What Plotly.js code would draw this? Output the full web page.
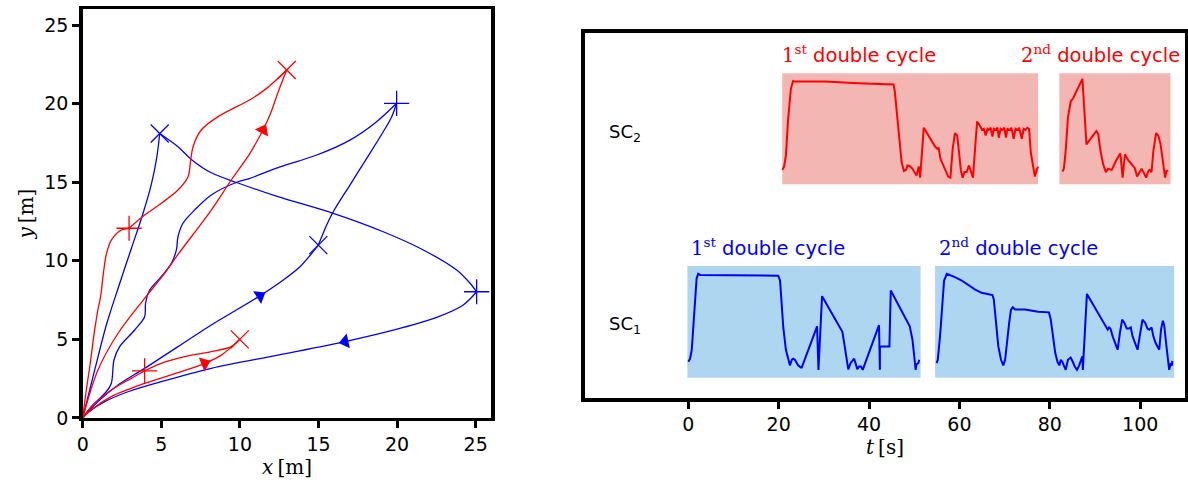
<!DOCTYPE html>
<html><head><meta charset="utf-8">
<script src="https://cdn.plot.ly/plotly-3.0.1.min.js"></script>
<style>html,body{margin:0;padding:0;background:#fff}</style>
</head><body><div id="chart" style="width:1188px;height:483px"></div>
<script>
// ---------- Left panel: trajectories (x, y in m) ----------
const blueA_x = [0, 0.8, 1.5, 2.3, 3.1, 3.8, 4.35, 4.7, 4.9];
const blueA_y = [0, 3.2, 5.9, 8.4, 10.8, 12.9, 14.8, 16.5, 18.1];
const blueB_x = [4.9, 6.06, 6.91, 8.18, 9.88, 12.42, 15.94, 19.12, 21.67, 23.79, 24.64, 25.06];
const blueB_y = [18.1, 17.26, 16.45, 15.6, 14.95, 14.08, 13.02, 11.85, 10.69, 9.41, 8.57, 8.03];
const blueC_x = [25.06, 24.21, 22.52, 20.18, 16.69, 12.42, 8.18, 5.0, 2.88, 1.4, 0.4, 0];
const blueC_y = [8.03, 7.19, 6.4, 5.7, 4.86, 4.0, 3.16, 2.31, 1.67, 1.04, 0.4, 0];
const blueD_x = [0, 0.97, 2.25, 3.94, 6.06, 8.18, 11.27, 12.76, 13.82, 14.99];
const blueD_y = [0, 1.04, 2.1, 3.16, 4.54, 5.92, 7.77, 8.78, 9.62, 11.0];
const blueE_x = [14.99, 15.52, 15.94, 17.0, 18.07, 19.12, 19.66, 19.97];
const blueE_y = [11.0, 12.28, 13.12, 14.82, 16.52, 18.21, 19.17, 20.02];
const blueF_x = [19.97, 18.7, 17.0, 14.89, 12.6, 10.64, 9.88, 8.18, 7.12, 6.38, 6.06, 5.96, 5.64, 5.0, 4.26, 4.0, 3.94, 3.31, 2.35, 1.99, 1.82, 1.5, 0.55, 0];
const blueF_y = [20.02, 18.85, 17.68, 16.73, 15.99, 15.25, 15.03, 14.19, 13.23, 12.39, 11.53, 10.69, 9.84, 8.99, 8.14, 7.3, 6.44, 5.6, 4.54, 3.69, 2.2, 1.67, 0.72, 0];
const redA_x = [0, 0.23, 0.45, 0.6, 0.76, 0.97, 1.14, 1.29, 1.4, 1.5, 1.82, 2.46, 2.95];
const redA_y = [0, 1.78, 3.26, 4.4, 5.6, 6.9, 7.72, 8.99, 9.84, 10.4, 11.32, 11.96, 12.07];
const redB_x = [2.95, 3.94, 5.0, 6.06, 6.7, 6.87, 7.02, 7.54, 8.61, 10.7, 11.7, 12.98];
const redB_y = [12.07, 12.91, 13.66, 14.5, 15.35, 16.41, 17.26, 18.32, 19.17, 20.28, 20.97, 22.14];
const redC_x = [0, 0.97, 2.25, 3.94, 5.21, 6.1, 8.18, 9.45, 10.64, 11.47, 11.91, 12.44, 12.98];
const redC_y = [0, 3.05, 5.39, 7.61, 9.2, 10.45, 13.23, 15.14, 16.84, 18.32, 19.27, 20.76, 22.14];
const redD_x = [0, 0.55, 1.82, 3.09, 3.94, 5.0, 6.49, 8.18, 9.45, 9.99];
const redD_y = [0, 0.72, 1.78, 2.52, 3.0, 3.48, 3.9, 4.22, 4.54, 5.0];
const redE_x = [0, 0.6, 1.82, 3.94, 6.06, 7.76, 8.82, 9.99];
const redE_y = [0, 0.55, 1.36, 2.2, 2.88, 3.48, 4.0, 5.0];

const blueCross_x = [4.9, 14.99];   const blueCross_y = [18.1, 11.0];
const bluePlus_x  = [19.97, 25.06]; const bluePlus_y  = [20.02, 8.03];
const redCross_x  = [12.98, 9.99];  const redCross_y  = [22.14, 5.0];
const redPlus_x   = [2.95, 3.94];   const redPlus_y   = [12.07, 3.0];

// arrow heads: [curve name, vertex index]
const arrowRefs = [['blueD', 6], ['blueC', 4], ['redC', 9], ['redE', 5]];

// ---------- Right panel: signals (t in s, level 0..1 inside band) ----------
const sc1a_t = [0.0,0.4,0.77,1.1,1.5,1.85,2.2,2.6,19.9,20.3,20.6,21.0,21.6,22.1,22.5,22.9,23.2,23.6,23.9,24.3,24.9,25.1,28.5,28.8,29.6,33.6,34.1,34.5,35.0,35.4,35.9,36.4,36.7,37.0,37.4,37.8,38.2,38.6,42.2,42.4,42.4,44.5,44.8,49.0,49.6,50.0,50.3,50.5,50.9,51.1];
const sc1a_v = [0.143,0.17,0.25,0.46,0.76,0.89,0.93,0.92,0.913,0.87,0.70,0.46,0.25,0.16,0.11,0.16,0.17,0.16,0.14,0.11,0.09,0.09,0.46,0.07,0.73,0.44,0.41,0.31,0.16,0.075,0.13,0.16,0.17,0.13,0.075,0.10,0.10,0.07,0.47,0.07,0.28,0.28,0.78,0.46,0.34,0.19,0.07,0.12,0.13,0.16];
const sc1b_t = [54.95,55.2,55.7,56.2,56.6,57.2,57.9,59.0,60.5,62.0,63.4,64.9,66.0,67.3,67.6,68.1,68.6,69.2,69.7,70.1,70.4,71.0,71.4,71.8,72.3,74.5,77.4,79.8,80.2,80.7,81.2,81.7,82.1,82.4,82.8,83.2,83.5,84.0,84.6,85.1,85.5,86.0,86.5,87.0,87.2,87.3,88.2,89.2,90.7,92.2,92.8,93.1,93.4,93.9,94.5,95.0,95.5,96.0,96.5,97.0,97.5,97.9,98.3,98.9,99.4,100.0,100.5,101.1,101.6,102.0,102.5,102.9,103.4,104.2,104.6,105.0,105.3,105.8,106.4,106.7,107.0,107.1];
const sc1b_v = [0.13,0.16,0.37,0.67,0.87,0.93,0.92,0.90,0.87,0.83,0.79,0.76,0.75,0.74,0.70,0.52,0.28,0.16,0.11,0.16,0.28,0.49,0.61,0.63,0.61,0.61,0.59,0.585,0.52,0.34,0.22,0.14,0.11,0.16,0.14,0.10,0.07,0.16,0.18,0.14,0.10,0.07,0.11,0.17,0.19,0.07,0.75,0.68,0.58,0.47,0.43,0.45,0.44,0.37,0.31,0.25,0.40,0.52,0.49,0.44,0.44,0.45,0.37,0.31,0.25,0.40,0.52,0.49,0.44,0.43,0.45,0.37,0.31,0.25,0.43,0.51,0.47,0.28,0.07,0.12,0.11,0.15];
const sc2a_t = [20.8,21.2,21.6,22.1,22.7,23.2,23.6,30.2,37.6,45.4,45.7,46.2,46.7,47.2,47.7,48.2,48.5,49.0,49.6,50.0,50.5,51.0,51.3,52.1,53.1,53.8,54.6,55.1,55.4,55.8,56.4,56.9,57.5,58.0,58.5,59.0,59.5,59.9,60.3,60.7,61.1,61.6,62.1,62.5,63.0,63.4,63.9,64.5,65.0,65.4,65.8,66.2,66.5,66.9,67.3,67.6,68.0,68.4,68.7,69.1,69.5,69.9,70.3,70.6,71.2,71.5,72.0,72.4,72.9,73.2,73.8,74.2,74.6,75.0,75.4,75.8,76.3,76.7,77.1,77.4];
const sc2a_v = [0.13,0.16,0.26,0.59,0.86,0.93,0.925,0.925,0.91,0.90,0.835,0.62,0.38,0.20,0.12,0.13,0.17,0.165,0.14,0.11,0.08,0.16,0.06,0.51,0.44,0.39,0.34,0.32,0.325,0.23,0.17,0.13,0.07,0.06,0.32,0.46,0.44,0.29,0.13,0.06,0.11,0.11,0.17,0.12,0.06,0.29,0.565,0.53,0.49,0.50,0.44,0.50,0.49,0.51,0.43,0.50,0.49,0.51,0.42,0.50,0.49,0.51,0.42,0.50,0.49,0.51,0.41,0.50,0.49,0.51,0.41,0.50,0.49,0.51,0.50,0.28,0.17,0.07,0.13,0.16];
const sc2b_t = [82.8,83.1,83.5,84.0,84.6,85.2,87.2,88.1,89.2,90.3,90.7,91.2,91.8,92.4,92.9,93.7,94.6,95.6,96.1,96.6,97.3,98.3,98.8,99.3,99.8,100.3,100.7,101.3,101.8,102.1,102.5,102.9,103.5,104.0,104.5,105.0,105.5,105.8,106.2];
const sc2b_v = [0.115,0.14,0.30,0.60,0.745,0.78,0.95,0.36,0.42,0.48,0.45,0.30,0.18,0.11,0.14,0.13,0.21,0.28,0.06,0.27,0.22,0.17,0.145,0.07,0.11,0.14,0.11,0.06,0.12,0.13,0.11,0.30,0.46,0.44,0.36,0.21,0.06,0.12,0.125];

// shaded cycle windows [start, end] in s
const sc1Windows = [[-0.2, 51.4], [54.6, 107.5]];
const sc2Windows = [[20.8, 77.4], [82.1, 106.7]];
const cycleLabels = ['1<sup>st</sup>', '2<sup>nd</sup>'];
const sc1LabelT = [0.1, 55.0];
const sc2LabelT = [20.3, 73.2];
const bandNames = ['SC<sub>1</sub>', 'SC<sub>2</sub>'];
const xTicks = [0, 5, 10, 15, 20, 25];
const tTicks = [0, 20, 40, 60, 80, 100];

// ---------- build ----------
const BLUE = '#0000ff', RED = '#ff0000';
const curves = {
  blueA: [blueA_x, blueA_y, BLUE], blueB: [blueB_x, blueB_y, BLUE], blueC: [blueC_x, blueC_y, BLUE],
  blueD: [blueD_x, blueD_y, BLUE], blueE: [blueE_x, blueE_y, BLUE], blueF: [blueF_x, blueF_y, BLUE],
  redA: [redA_x, redA_y, RED], redB: [redB_x, redB_y, RED], redC: [redC_x, redC_y, RED],
  redD: [redD_x, redD_y, RED], redE: [redE_x, redE_y, RED]
};
const traces = [];
for (const k in curves) {
  const [xs, ys, c] = curves[k];
  traces.push({type:'scatter', mode:'lines', x:xs, y:ys, xaxis:'x', yaxis:'y',
    line:{color:c, width:1.3, shape:'spline', smoothing:0.9}, hoverinfo:'skip'});
}
for (const [name, i] of arrowRefs) {
  const [xs, ys, c] = curves[name];
  const th = Math.atan2(ys[i+1]-ys[i-1], xs[i+1]-xs[i-1]) * 180 / Math.PI;
  traces.push({type:'scatter', mode:'markers', x:[xs[i]], y:[ys[i]], xaxis:'x', yaxis:'y',
    marker:{symbol:'triangle-up', size:13, color:c, angle:90 - th, line:{width:0}}, hoverinfo:'skip'});
}
function mk(xs, ys, sym, c) {
  traces.push({type:'scatter', mode:'markers', x:xs, y:ys, xaxis:'x', yaxis:'y', cliponaxis:false,
    marker:{symbol:sym, size:18, color:c, line:{color:c, width:1.3}}, hoverinfo:'skip'});
}
mk(blueCross_x, blueCross_y, 'x-thin', BLUE);
mk(bluePlus_x, bluePlus_y, 'cross-thin', BLUE);
mk(redCross_x, redCross_y, 'x-thin', RED);
mk(redPlus_x, redPlus_y, 'cross-thin', RED);

traces.push({type:'scatter', mode:'lines', x:sc1a_t, y:sc1a_v, xaxis:'x2', yaxis:'y2', line:{color:BLUE, width:2}, hoverinfo:'skip'});
traces.push({type:'scatter', mode:'lines', x:sc1b_t, y:sc1b_v, xaxis:'x2', yaxis:'y2', line:{color:BLUE, width:2}, hoverinfo:'skip'});
traces.push({type:'scatter', mode:'lines', x:sc2a_t, y:sc2a_v, xaxis:'x2', yaxis:'y3', line:{color:RED, width:2}, hoverinfo:'skip'});
traces.push({type:'scatter', mode:'lines', x:sc2b_t, y:sc2b_v, xaxis:'x2', yaxis:'y3', line:{color:RED, width:2}, hoverinfo:'skip'});

const shapes = [];
sc1Windows.forEach(w => shapes.push({type:'rect', xref:'x2', yref:'y2', x0:w[0], x1:w[1], y0:0, y1:1, fillcolor:'#afd6f0', line:{width:0}, layer:'below'}));
sc2Windows.forEach(w => shapes.push({type:'rect', xref:'x2', yref:'y3', x0:w[0], x1:w[1], y0:0, y1:1, fillcolor:'#f4b6b2', line:{width:0}, layer:'below'}));

const SERIF = "'DejaVu Serif', serif";
const SANS = "'DejaVu Sans', sans-serif";
const annotations = [];
function cycLabel(t, yref, i, c) {
  annotations.push({xref:'x2', yref:yref, x:t, y:1.17, xanchor:'left', yanchor:'middle', showarrow:false,
    text:'<span style="font-family:DejaVu Serif">' + cycleLabels[i] + '</span> double cycle',
    font:{family:SANS, size:19.5, color:c}});
}
sc1LabelT.forEach((t, i) => cycLabel(t, 'y2', i, BLUE));
sc2LabelT.forEach((t, i) => cycLabel(t, 'y3', i, RED));
annotations.push({xref:'x2', yref:'y2', x:-14.1, y:0.47, showarrow:false, text:bandNames[0], font:{family:SANS, size:18, color:'black'}});
annotations.push({xref:'x2', yref:'y3', x:-14.1, y:0.46, showarrow:false, text:bandNames[1], font:{family:SANS, size:18, color:'black'}});

const axBase = {showline:true, linewidth:3.5, linecolor:'black', mirror:true, showgrid:false, zeroline:false,
  ticks:'outside', ticklen:7, tickwidth:3, tickcolor:'black', automargin:false,
  tickfont:{family:SANS, size:19, color:'black'}};

const layout = {
  width:1188, height:483, margin:{l:0, r:0, t:0, b:0}, showlegend:false,
  paper_bgcolor:'white', plot_bgcolor:'white', font:{family:SANS, size:19, color:'black'},
  xaxis:Object.assign({}, axBase, {domain:[0.06961, 0.41364], range:[0, 26], tickvals:xTicks, anchor:'y',
    title:{text:'<i>x</i>\u2009[m]', font:{family:SERIF, size:20}, standoff:4}}),
  yaxis:Object.assign({}, axBase, {domain:[0.13458, 0.98075], range:[0, 26], tickvals:xTicks, anchor:'x',
    title:{text:'<i>y</i>\u2009[m]', font:{family:SERIF, size:20}, standoff:6}}),
  xaxis2:Object.assign({}, axBase, {domain:[0.49242, 0.99747], range:[-22.85, 109.9], tickvals:tTicks, anchor:'y2',
    title:{text:'<i>t</i>\u2009[s]', font:{family:SERIF, size:20}, standoff:4}}),
  yaxis2:Object.assign({}, axBase, {domain:[0.17598, 0.93168], range:[-0.182, 3.086], ticks:'', showticklabels:false, anchor:'x2'}),
  yaxis3:{overlaying:'y2', anchor:'x2', range:[-1.925, 1.363], visible:false, showgrid:false, zeroline:false},
  shapes:shapes, annotations:annotations
};
Plotly.newPlot('chart', traces, layout, {displayModeBar:false, staticPlot:true});
</script></body></html>
